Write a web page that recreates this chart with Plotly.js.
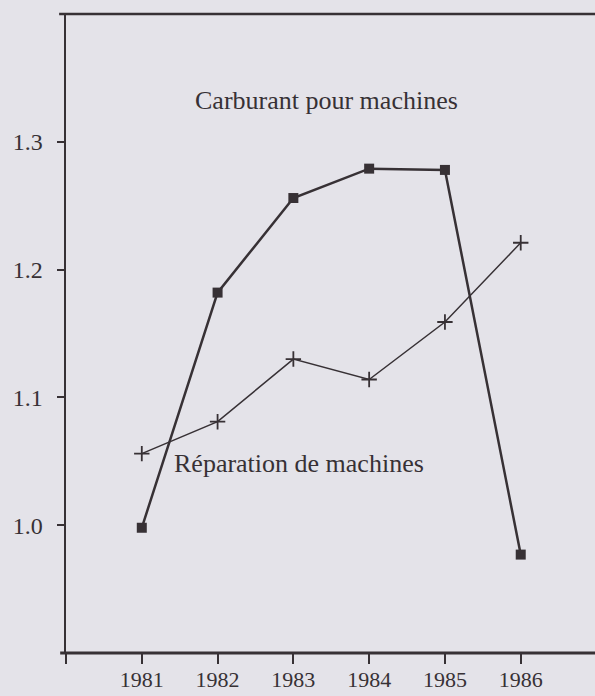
<!DOCTYPE html>
<html>
<head>
<meta charset="utf-8">
<script src="https://cdn.plot.ly/plotly-3.0.1.min.js"></script>
<style>
  html, body { margin: 0; padding: 0; background: #e4e3e9; }
  #chart { width: 595px; height: 696px; }
</style>
</head>
<body>
<div id="chart"></div>
<script>
// Data
const years = [1981, 1982, 1983, 1984, 1985, 1986];
const carburant = [0.998, 1.182, 1.256, 1.279, 1.278, 0.977];
const reparation = [1.056, 1.081, 1.130, 1.114, 1.159, 1.221];
const seriesNames = ["Carburant pour machines", "Réparation de machines"];
const xTickVals = [1980, 1981, 1982, 1983, 1984, 1985, 1986];
const xTickText = ["", "1981", "1982", "1983", "1984", "1985", "1986"];
const yTickVals = [1.0, 1.1, 1.2, 1.3];
const yTickText = ["1.0", "1.1", "1.2", "1.3"];

const ink = "#373135";
const paper = "#e4e3e9";
const serif = "'Liberation Serif', 'Times New Roman', 'DejaVu Serif', serif";

const traces = [
  {
    x: years, y: carburant, name: seriesNames[0],
    type: "scatter", mode: "lines+markers",
    line: { color: ink, width: 2.5 },
    marker: { symbol: "square", size: 10, color: ink },
    cliponaxis: false
  },
  {
    x: years, y: reparation, name: seriesNames[1],
    type: "scatter", mode: "lines+markers",
    line: { color: ink, width: 1.5 },
    marker: { symbol: "cross-thin", size: 11, color: ink, line: { color: ink, width: 1.8 } },
    cliponaxis: false
  }
];

const layout = {
  width: 595, height: 696,
  margin: { l: 66, r: 0, t: 14, b: 43, pad: 0 },
  paper_bgcolor: paper,
  plot_bgcolor: paper,
  showlegend: false,
  font: { family: serif, color: ink, size: 22 },
  xaxis: {
    range: [1980, 1986.98],
    tickmode: "array", tickvals: xTickVals, ticktext: xTickText,
    ticks: "outside", ticklen: 10, tickwidth: 2, tickcolor: ink,
    showgrid: false, zeroline: false, showline: false,
    tickfont: { family: serif, size: 22, color: ink },
    ticklabelstandoff: -3
  },
  yaxis: {
    range: [0.9, 1.4],
    tickmode: "array", tickvals: yTickVals, ticktext: yTickText,
    ticks: "outside", ticklen: 7, tickwidth: 2, tickcolor: ink,
    showgrid: false, zeroline: false,
    showline: true, linecolor: ink, linewidth: 2.5,
    tickfont: { family: serif, size: 24, color: ink },
    ticklabelstandoff: 9
  },
  shapes: [
    { type: "line", xref: "paper", yref: "paper", x0: -0.013, x1: 1, y0: 1, y1: 1,
      line: { color: ink, width: 2.5 } },
    { type: "line", xref: "paper", yref: "paper", x0: -0.011, x1: 1, y0: 0, y1: 0,
      line: { color: ink, width: 3 } }
  ],
  annotations: [
    { x: 1981.675, y: 1.332, xref: "x", yref: "y", text: seriesNames[0],
      showarrow: false, xanchor: "left", yanchor: "middle",
      font: { family: serif, size: 26, color: ink } },
    { x: 1981.40, y: 1.048, xref: "x", yref: "y", text: seriesNames[1],
      showarrow: false, xanchor: "left", yanchor: "middle",
      font: { family: serif, size: 26, color: ink } }
  ]
};

Plotly.newPlot("chart", traces, layout, { displayModeBar: false, staticPlot: true });
</script>
</body>
</html>
